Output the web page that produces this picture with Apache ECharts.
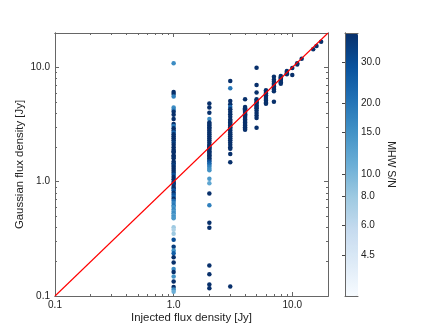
<!DOCTYPE html>
<html>
<head>
<meta charset="utf-8">
<script src="https://cdn.jsdelivr.net/npm/echarts@6/dist/echarts.min.js"></script>
<style>
html, body { margin: 0; background: #fff; }
#chart { width: 440px; height: 330px; }
</style>
</head>
<body>
<div id="chart"></div>
<script>
// injected flux levels (Jy), one column of points per level
var injected = [1, 2, 3, 4, 5, 6, 7, 8, 9, 10, 11, 12, 15, 16, 17.5];

// recovered gaussian flux (Jy) per column
var gaussFlux = [
    [10.9, 6.1, 5.86, 5.56, 4.46, 4.26, 4.09, 3.85, 3.53, 3.19, 3.07, 2.93,
     2.8, 2.7, 2.6, 2.5, 2.4, 2.3, 2.2, 2.1, 2.0, 1.9, 1.85, 1.8, 1.7, 1.65, 1.6, 1.5,
     1.45, 1.4, 1.35, 1.3, 1.25, 1.2, 1.15, 1.1, 1.05, 1.0, 0.97, 0.94, 0.9, 0.87,
     0.84, 0.8, 0.77, 0.74, 0.71, 0.68, 0.65, 0.62, 0.6, 0.57, 0.55, 0.53, 0.51, 0.49, 0.48,
     0.40, 0.38, 0.35, 0.31, 0.27, 0.25, 0.237, 0.218, 0.196, 0.172, 0.162, 0.148,
     0.134, 0.12, 0.114, 0.109],
    [4.83, 4.46, 4.01, 3.53, 3.3, 3.2, 3.1, 3.0, 2.9, 2.8, 2.7, 2.6, 2.5, 2.4, 2.3,
     2.2, 2.1, 2.05, 2.0, 1.95, 1.9, 1.85, 1.8, 1.75, 1.7, 1.65, 1.6, 1.55, 1.5, 1.45,
     1.4, 1.35, 1.3, 1.26, 1.06, 0.97, 0.787, 0.622, 0.437, 0.396, 0.185, 0.155, 0.126, 0.117],
    [7.6, 6.56, 5.09, 4.77, 4.5, 4.3, 4.1, 3.9, 3.7, 3.5, 3.4, 3.3, 3.2, 3.1, 3.0,
     2.9, 2.8, 2.7, 2.6, 2.5, 2.4, 2.3, 2.2, 2.1, 2.0, 1.94, 1.75, 1.48, 0.121],
    [5.27, 4.5, 4.4, 4.3, 4.2, 4.1, 4.0, 3.9, 3.8, 3.7, 3.6, 3.5, 3.4, 3.3, 3.2, 3.1, 3.0, 2.9, 2.85],
    [9.94, 7.02, 6.02, 5.27, 5.1, 4.95, 4.8, 4.65, 4.5, 4.4, 4.2, 4.0, 3.8, 3.6, 2.97],
    [6.3, 6.1, 5.9, 5.7, 5.5, 5.3, 5.1, 4.9, 4.8],
    [8.3, 7.8, 7.5, 7.2, 7.0, 6.8, 6.6, 6.4, 6.2, 5.0],
    [8.4, 8.2, 8.0, 7.8, 7.6, 7.4, 7.2],
    [9.3, 9.1, 8.9, 8.7],
    [9.9, 8.6],
    [10.9, 10.6],
    [11.9],
    [14.4],
    [15.4],
    [16.8]
];

// MHW S/N for each point (same layout as gaussFlux)
var snrValues = [
    [16, 40, 40, 18, 16, 18, 40, 40, 40, 40, 20, 40,
     40, 24, 40, 40, 40, 40, 35, 40, 40, 40, 40, 40, 40, 40, 40, 40,
     40, 35, 40, 40, 40, 40, 30, 40, 40, 40, 40, 35, 40, 40,
     28, 40, 30, 25, 40, 22, 18, 20, 15, 17, 14, 16, 13, 15, 14,
     8, 7, 8, 30, 35, 15, 25, 40, 40, 16, 40, 15,
     40, 40, 16, 11],
    [40, 40, 40, 16, 40, 40, 40, 40, 40, 40, 40, 40, 40, 40, 40,
     40, 40, 40, 40, 40, 40, 40, 40, 40, 40, 40, 40, 40, 30, 25,
     22, 18, 16, 15, 14, 12, 40, 18, 40, 40, 40, 40, 40, 40],
    [40, 20, 40, 40, 25, 40, 40, 40, 40, 40, 40, 40, 40, 40, 40,
     40, 40, 40, 40, 40, 40, 40, 40, 40, 40, 40, 40, 40, 40],
    [40, 40, 40, 40, 40, 40, 40, 40, 40, 40, 40, 40, 40, 40, 40, 40, 40, 40, 40],
    [40, 40, 40, 40, 40, 40, 40, 40, 40, 40, 40, 40, 40, 40, 40],
    [40, 40, 40, 40, 40, 40, 40, 40, 40],
    [40, 40, 40, 40, 40, 40, 40, 40, 40, 40],
    [40, 40, 40, 40, 40, 40, 40],
    [40, 40, 40, 40],
    [40, 40],
    [40, 40],
    [40],
    [40],
    [40],
    [40]
];

var majorTicks = [0.1, 1, 10];
var minorTicks = [0.2, 0.3, 0.4, 0.5, 0.6, 0.7, 0.8, 0.9, 2, 3, 4, 5, 6, 7, 8, 9];
var cbarTicks = [4.5, 6, 8, 10, 15, 20, 30];
var cbarMin = 3, cbarMax = 40;
var blues = ['#f7fbff', '#deebf7', '#c6dbef', '#9ecae1', '#6baed6', '#4292c6', '#2171b5', '#08519c', '#08306b'];

var points = [];
injected.forEach(function (x, i) {
    gaussFlux[i].forEach(function (y, j) {
        points.push([x, y, Math.log10(snrValues[i][j])]);
    });
});

var fontFam = 'Liberation Sans, Arial, sans-serif';
var lineCol = '#666';

function logAxis(position, ticks, len, withLabel, extra) {
    var ax = {
        type: 'log', logBase: 10, min: 0.1, max: 20,
        position: position,
        gridIndex: 0,
        axisLine: { show: true, lineStyle: { color: lineCol, width: 1 } },
        axisTick: { show: true, inside: true, length: len, customValues: ticks,
                    lineStyle: { color: lineCol, width: 1 } },
        axisLabel: { show: false },
        splitLine: { show: false },
        minorTick: { show: false }
    };
    if (withLabel) {
        ax.axisLabel = {
            show: true, customValues: majorTicks, color: '#222', fontSize: 10,
            fontFamily: fontFam, margin: position === 'left' ? 5 : 4,
            formatter: function (v) { return Number(v).toFixed(1); }
        };
    }
    return Object.assign(ax, extra || {});
}

var nameStyle = { color: '#222', fontSize: 11.4, fontFamily: fontFam };

var option = {
    animation: false,
    backgroundColor: '#fff',
    grid: [
        { left: 55, top: 33, width: 273, height: 263 },
        { left: 345, top: 33, width: 13, height: 263 }
    ],
    xAxis: [
        logAxis('bottom', majorTicks, 4, true, {
            name: 'Injected flux density [Jy]', nameLocation: 'middle', nameGap: 16,
            nameMoveOverlap: false, nameTextStyle: nameStyle
        }),
        logAxis('bottom', minorTicks, 2, false),
        logAxis('top', majorTicks, 4, false),
        logAxis('top', minorTicks, 2, false),
        { gridIndex: 1, type: 'value', position: 'bottom', z: 10, axisLine: { show: true, lineStyle: { color: lineCol } },
          axisTick: { show: false }, axisLabel: { show: false }, splitLine: { show: false } },
        { gridIndex: 1, type: 'value', position: 'top', z: 10, axisLine: { show: true, lineStyle: { color: lineCol } },
          axisTick: { show: false }, axisLabel: { show: false }, splitLine: { show: false } }
    ],
    yAxis: [
        logAxis('left', majorTicks, 4, true, {
            name: 'Gaussian flux density [Jy]', nameLocation: 'middle', nameGap: 30,
            nameMoveOverlap: false, nameTextStyle: nameStyle
        }),
        logAxis('left', minorTicks, 2, false),
        logAxis('right', majorTicks, 4, false),
        logAxis('right', minorTicks, 2, false),
        { gridIndex: 1, type: 'log', logBase: 10, min: cbarMin, max: cbarMax, position: 'right', z: 10,
          axisLine: { show: true, lineStyle: { color: lineCol } },
          axisTick: { show: true, inside: true, length: 3, customValues: cbarTicks, lineStyle: { color: '#444' } },
          axisLabel: { show: true, customValues: cbarTicks, color: '#222', fontSize: 10, fontFamily: fontFam, margin: 3,
                       formatter: function (v) { return Number(v).toFixed(1); } },
          splitLine: { show: false },
          name: 'MHW S/N', nameLocation: 'middle', nameRotate: -90, nameGap: 27, nameMoveOverlap: false,
          nameTextStyle: { color: '#222', fontSize: 10.5, fontFamily: fontFam } },
        { gridIndex: 1, type: 'value', position: 'left', z: 10, axisLine: { show: true, lineStyle: { color: lineCol } },
          axisTick: { show: false }, axisLabel: { show: false }, splitLine: { show: false } }
    ],
    visualMap: {
        type: 'continuous',
        seriesIndex: 0,
        dimension: 2,
        min: Math.log10(cbarMin),
        max: Math.log10(cbarMax),
        left: 345, top: 33,
        itemWidth: 13, itemHeight: 263,
        padding: 0,
        calculable: false,
        hoverLink: false,
        inRange: { color: blues }
    },
    series: [
        {
            type: 'scatter',
            xAxisIndex: 0, yAxisIndex: 0,
            symbolSize: 4.5,
            itemStyle: { opacity: 1 },
            data: points,
            z: 2
        },
        {
            type: 'line',
            xAxisIndex: 0, yAxisIndex: 0,
            data: [[0.1, 0.1], [20, 20]],
            showSymbol: false,
            lineStyle: { color: '#ff0000', width: 1.1 },
            silent: true,
            z: 5
        }
    ]
};

var chart = echarts.init(document.getElementById('chart'));
chart.setOption(option);
</script>
</body>
</html>
